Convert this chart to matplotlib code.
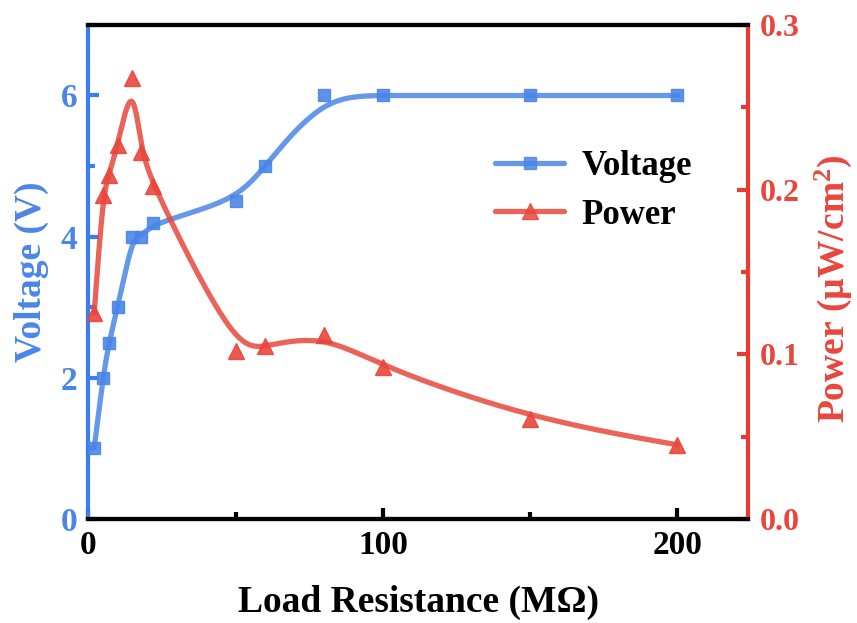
import numpy as np
import matplotlib
matplotlib.use('Agg')
from matplotlib import pyplot as plt
from matplotlib.ticker import MultipleLocator

plt.rcParams['font.family'] = ['Liberation Serif', 'DejaVu Serif']
plt.rcParams['font.weight'] = 'bold'
plt.rcParams['mathtext.fontset'] = 'custom'
plt.rcParams['mathtext.rm'] = 'Liberation Serif:bold'
plt.rcParams['mathtext.it'] = 'Liberation Serif:bold'
plt.rcParams['mathtext.bf'] = 'Liberation Serif:bold'

# load resistance (MOhm)
resistance = [2, 5, 7, 10, 15, 18, 22, 50, 60, 80, 100, 150, 200]
voltage = [1.0, 2.0, 2.5, 3.0, 4.0, 4.0, 4.2, 4.5, 5.0, 6.0, 6.0, 6.0, 6.0]
power = [0.125, 0.197, 0.209, 0.227, 0.268, 0.223, 0.202,
         0.102, 0.105, 0.112, 0.092, 0.061, 0.045]

c_blue = '#4a86e8'
c_red = '#e8463c'
c_blue_ax = '#3b7ded'
c_red_ax = '#e53b30'


def bspline(x, y, n=60):
    # uniform cubic b-spline, ends clamped (like Origin's B-spline line)
    P = np.column_stack([x, y]).astype(float)
    P = np.vstack([P[0], P[0], P, P[-1], P[-1]])
    t = np.linspace(0, 1, n)[:, None]
    b0 = (1 - t) ** 3 / 6
    b1 = (3 * t ** 3 - 6 * t ** 2 + 4) / 6
    b2 = (-3 * t ** 3 + 3 * t ** 2 + 3 * t + 1) / 6
    b3 = t ** 3 / 6
    segs = []
    for i in range(len(P) - 3):
        segs.append(b0 * P[i] + b1 * P[i + 1] + b2 * P[i + 2] + b3 * P[i + 3])
    c = np.vstack(segs)
    return c[:, 0], c[:, 1]


fig = plt.figure(figsize=(8.57, 6.23), dpi=100)
ax = fig.add_axes([0.103, 0.167, 0.770, 0.793])
ax2 = ax.twinx()

vx, vy = bspline(resistance, voltage)
px, py = bspline(resistance, power)

ax.plot(vx, vy, color=c_blue, lw=3.8, alpha=0.85, solid_capstyle='round', zorder=3)
ax.plot(resistance, voltage, ls='none', marker='s', ms=9, color=c_blue,
        alpha=0.9, zorder=4)
ax2.plot(px, py, color=c_red, lw=3.8, alpha=0.85, solid_capstyle='round', zorder=3)
ax2.plot(resistance, power, ls='none', marker='^', ms=12, color=c_red,
         alpha=0.9, zorder=4)

# legend handles
lv, = ax.plot([], [], color=c_blue, lw=3.8, marker='s', ms=9, alpha=0.85,
              solid_capstyle='round', label='Voltage')
lp, = ax.plot([], [], color=c_red, lw=3.8, marker='^', ms=12, alpha=0.85,
              solid_capstyle='round', label='Power')
ax2.legend(handles=[lv, lp], loc='upper left', bbox_to_anchor=(0.595, 0.775),
           frameon=False, fontsize=25, handlelength=2.0, handletextpad=0.5,
           labelspacing=0.45, borderaxespad=0)

ax.set_xlim(0, 224)
ax.set_ylim(0, 7)
ax2.set_ylim(0, 0.3)

ax.xaxis.set_major_locator(MultipleLocator(100))
ax.xaxis.set_minor_locator(MultipleLocator(50))
ax.yaxis.set_major_locator(MultipleLocator(2))
ax.yaxis.set_minor_locator(MultipleLocator(1))
ax2.yaxis.set_major_locator(MultipleLocator(0.1))
ax2.yaxis.set_minor_locator(MultipleLocator(0.05))

ax2.yaxis.set_major_formatter(plt.FuncFormatter(lambda v, p: '%.1f' % v))

for a in (ax, ax2):
    for s in a.spines.values():
        s.set_linewidth(3)
ax.spines['left'].set_color(c_blue_ax)
ax2.spines['left'].set_visible(False)
ax.spines['right'].set_visible(False)
ax2.spines['right'].set_color(c_red_ax)
ax2.spines['top'].set_color('black')
ax2.spines['bottom'].set_color('black')

ax.tick_params(axis='x', which='major', direction='in', length=8, width=3,
               labelsize=24, pad=8, colors='black')
ax.tick_params(axis='x', which='minor', direction='in', length=5, width=3)
ax.tick_params(axis='y', which='major', direction='in', length=8, width=3,
               labelsize=24, pad=8, colors=c_blue_ax, labelcolor=c_blue)
ax.tick_params(axis='y', which='minor', direction='in', length=5, width=3,
               colors=c_blue_ax)
ax2.tick_params(axis='y', which='major', direction='in', length=8, width=3,
                labelsize=23, pad=8, colors=c_red_ax, labelcolor=c_red)
ax2.tick_params(axis='y', which='minor', direction='in', length=5, width=3,
                colors=c_red_ax)

ax.set_xlabel('Load Resistance (M\u03a9)', fontsize=27, fontweight='bold',
              labelpad=17)
ax.set_ylabel('Voltage (V)', fontsize=27, fontweight='bold', color=c_blue,
              labelpad=8)
ax2.set_ylabel('Power (\u00b5W/cm$^2$)', fontsize=27, fontweight='bold',
               color=c_red, labelpad=10)
ax2.yaxis.set_label_coords(1.098, 0.465)

fig.savefig('out.png', dpi=100)
